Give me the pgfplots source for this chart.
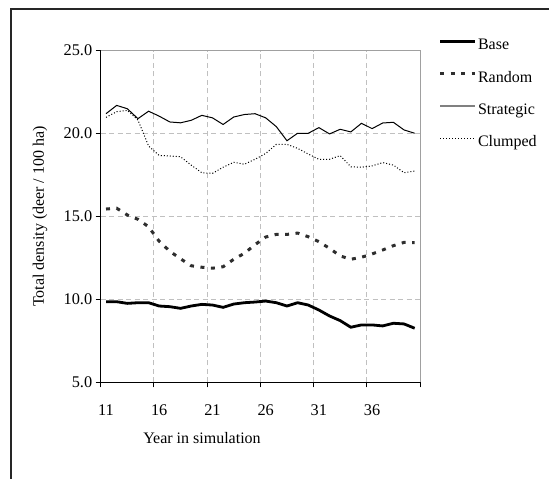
\documentclass[border=0pt]{standalone}
\usepackage{pgfplots}
\pgfplotsset{compat=1.18}
\usepackage{fontspec}
\setmainfont{Liberation Serif}
\definecolor{gridgray}{HTML}{C0C0C0}
\definecolor{framegray}{HTML}{A0A0A0}
\definecolor{rnd}{HTML}{2E2E2E}

\pgfplotstableread{
year base random strategic clumped
11 9.86 15.45 21.20 20.98
12 9.86 15.50 21.70 21.32
13 9.76 15.09 21.50 21.40
14 9.80 14.83 20.90 20.82
15 9.80 14.38 21.35 19.25
16 9.60 13.50 21.05 18.68
17 9.56 12.90 20.70 18.65
18 9.46 12.45 20.65 18.60
19 9.60 12.03 20.80 18.10
20 9.70 11.94 21.10 17.64
21 9.66 11.88 20.95 17.60
22 9.52 11.97 20.55 17.97
23 9.72 12.42 21.00 18.27
24 9.80 12.78 21.15 18.15
25 9.84 13.30 21.20 18.45
26 9.90 13.76 20.95 18.80
27 9.80 13.92 20.42 19.35
28 9.60 13.92 19.57 19.35
29 9.80 14.00 20.02 19.11
30 9.66 13.78 20.02 18.77
31 9.36 13.48 20.36 18.45
32 9.00 13.08 19.98 18.45
33 8.72 12.62 20.26 18.67
34 8.32 12.42 20.10 18.00
35 8.46 12.54 20.62 17.97
36 8.46 12.74 20.30 18.05
37 8.40 12.98 20.64 18.25
38 8.56 13.24 20.68 18.10
39 8.52 13.44 20.22 17.64
40 8.26 13.42 20.02 17.74
}\datatable

\begin{document}
\begin{tikzpicture}[x=1bp,y=1bp]
\path[use as bounding box] (0,0) rectangle (549,479);
\draw[line width=1.3bp, black!85] (11,0) -- (11,470) -- (549,470);
\begin{axis}[
  at={(100.7bp,96.7bp)}, anchor=south west,
  scale only axis, width=319.3bp, height=331.6bp,
  xmin=10.5, xmax=40.5, ymin=5, ymax=25,
  axis x line*=bottom, axis y line*=left,
  axis line style={line width=1bp, black},
  xtick={10.5,15.5,20.5,25.5,30.5,35.5,40.5},
  xticklabels={},
  extra x ticks={11,16,21,26,31,36},
  extra x tick style={major tick length=0pt, xmajorgrids=false,
     tick label style={yshift=-19bp}},
  ytick={5,10,15,20,25},
  tick align=outside,
  major tick length=5bp,
  tick style={line width=1bp, black},
  xmajorgrids, ymajorgrids,
  grid style={gridgray, line width=1bp, dash pattern=on 5bp off 3.5bp},
  yticklabel style={/pgf/number format/.cd, fixed, fixed zerofill, precision=1},
  /pgf/number format/assume math mode=true,
  tick label style={font=\fontsize{16.3bp}{19bp}\selectfont},
  legend style={at={(axis description cs:1,1)}, anchor=north west,
     xshift=18.3bp, yshift=12bp, draw=none, fill=none, inner sep=0pt,
     row sep=18.3bp, font=\fontsize{16bp}{19bp}\selectfont,
     nodes={inner sep=0pt, text height=11bp, text depth=3bp},
     /tikz/every odd column/.append style={column sep=1.5bp}},
  legend cell align=left,
  legend image code/.code={\draw[#1] (0bp,4.5bp) -- (35bp,4.5bp);},
  clip=false,
]
\draw[framegray, line width=1bp] (rel axis cs:0,1) -- (rel axis cs:1,1) -- (rel axis cs:1,0);
\addplot[black, line width=2.8bp, forget plot] table[x=year, y=base] {\datatable};
\addplot[rnd, line width=3bp, dash pattern=on 4bp off 6.5bp, forget plot] table[x=year, y=random] {\datatable};
\addplot[black, line width=1bp, forget plot] table[x=year, y=strategic] {\datatable};
\addplot[black, line width=1bp, dash pattern=on 1bp off 2bp, forget plot] table[x=year, y=clumped] {\datatable};
\addlegendimage{black, line width=2.8bp}
\addlegendentry{Base}
\addlegendimage{rnd, line width=3bp, dash pattern=on 4bp off 6.5bp}
\addlegendentry{Random}
\addlegendimage{gray, line width=1.5bp}
\addlegendentry{Strategic}
\addlegendimage{black, line width=1bp, dash pattern=on 1bp off 2bp}
\addlegendentry{Clumped}
\end{axis}
\node[rotate=90, font=\fontsize{16bp}{19bp}\selectfont] at (40,262.5) {Total density (deer / 100 ha)};
\node[font=\fontsize{16bp}{19bp}\selectfont] at (202,41) {Year in simulation};
\end{tikzpicture}
\end{document}
